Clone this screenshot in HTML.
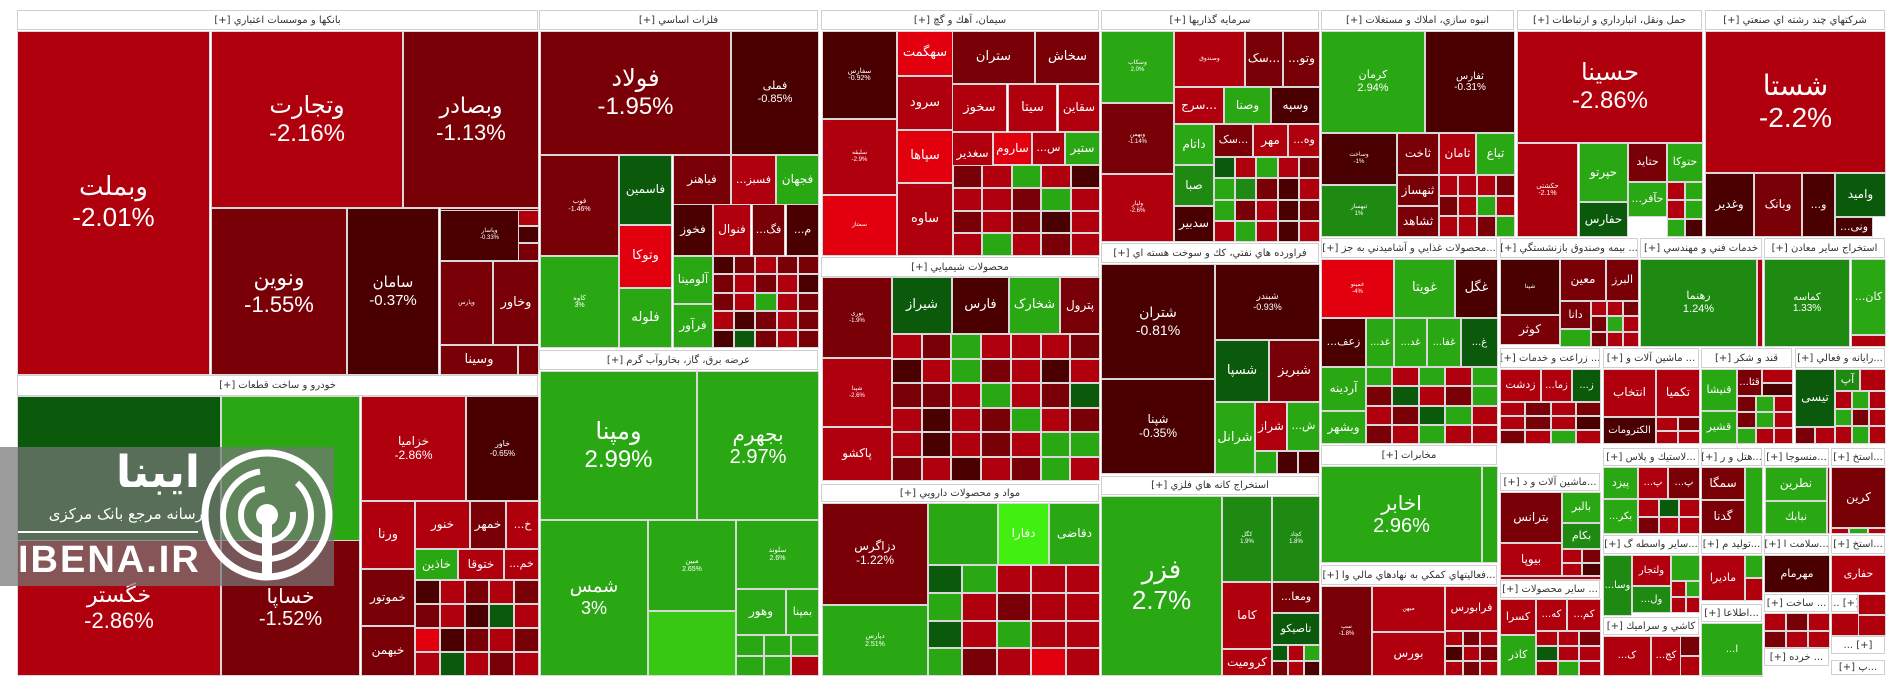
<!DOCTYPE html>
<html><head><meta charset="utf-8">
<style>
html,body{margin:0;padding:0;background:#fff;}
#root{position:relative;width:1904px;height:698px;overflow:hidden;background:#fff;font-family:"DejaVu Sans","Liberation Sans",sans-serif;}
.t{position:absolute;box-sizing:border-box;border:1px solid #d8d8d8;color:#fff;display:flex;flex-direction:column;align-items:center;justify-content:center;text-align:center;overflow:hidden;line-height:1.15;white-space:nowrap;}
.h{position:absolute;box-sizing:border-box;background:#fff;border:1px solid #d0d0d0;color:#333;font-size:10px;display:flex;align-items:center;justify-content:center;overflow:hidden;white-space:nowrap;direction:rtl;}
#wm{position:absolute;left:0;top:447px;width:334px;height:139px;background:rgba(118,118,118,0.72);}
</style></head><body>
<div id="root">
<div id="wm">
  <div style="position:absolute;left:30px;top:0px;width:170px;text-align:right;color:#fff;font-size:44px;font-weight:bold;">ایبنا</div>
  <div style="position:absolute;left:18px;top:58px;width:185px;text-align:right;color:#fff;font-size:15px;">رسانه مرجع بانک مرکزی</div>
  <div style="position:absolute;left:18px;top:84px;width:180px;height:2px;background:#fff;"></div>
  <div style="position:absolute;left:18px;top:92px;color:#fff;font-family:'Liberation Sans',sans-serif;font-weight:bold;font-size:38px;letter-spacing:2px;">IBENA.IR</div>
  <svg style="position:absolute;left:200px;top:0px;" width="134" height="139">
    <circle cx="67" cy="68" r="62" fill="none" stroke="#fff" stroke-width="7"/>
    <circle cx="67" cy="68" r="44" fill="none" stroke="#fff" stroke-width="6" stroke-dasharray="200 40"/>
    <circle cx="67" cy="68" r="26" fill="none" stroke="#fff" stroke-width="6" stroke-dasharray="120 40"/>
    <circle cx="67" cy="68" r="11" fill="#fff"/>
    <rect x="62" y="68" width="10" height="62" fill="#fff"/>
  </svg>
</div>
</div>
<script>
const C={a:"#4a0000",b:"#7a0008",c:"#b0000e",d:"#e2000f",g:"#2aa814",h:"#0b5a0b",m:"#1f8a12",l:"#41f010",n:"#36c812"};
const headers=[
[17,10,538,30,"بانکها و موسسات اعتباري [+]"],[17,375,538,396,"خودرو و ساخت قطعات [+]"],
[539,10,818,30,"فلزات اساسي [+]"],[539,350,818,370,"عرضه برق، گاز، بخاروآب گرم [+]"],
[821,10,1099,30,"سيمان، آهك و گچ [+]"],[821,257,1099,277,"محصولات شيميايي [+]"],
[821,484,1099,502,"مواد و محصولات دارويي [+]"],[1101,10,1319,30,"سرمايه گذاريها [+]"],
[1101,243,1319,263,"فراورده هاي نفتي، كك و سوخت هسته اي [+]"],[1101,476,1319,495,"استخراج كانه هاي فلزي [+]"],
[1321,10,1514,30,"انبوه سازي، املاك و مستغلات [+]"],[1517,10,1702,30,"حمل ونقل، انبارداري و ارتباطات [+]"],
[1705,10,1885,30,"شركتهاي چند رشته اي صنعتي [+]"],[1321,238,1497,258,"...محصولات غذايي و آشاميدني به جز [+]"],
[1500,238,1638,258,"... بيمه وصندوق بازنشستگي [+]"],[1640,238,1762,258,"خدمات فني و مهندسي [+]"],
[1764,238,1885,258,"استخراج ساير معادن [+]"],[1500,348,1600,368,"... زراعت و خدمات [+]"],
[1603,348,1699,368,"... ماشين آلات و [+]"],[1701,348,1792,368,"قند و شكر [+]"],
[1795,348,1885,368,"...رايانه و فعالي [+]"],[1321,445,1497,465,"مخابرات [+]"],
[1321,565,1497,585,"...فعاليتهاي كمكي به نهادهاي مالي وا [+]"],[1603,448,1699,466,"...لاستيك و پلاس [+]"],
[1701,448,1762,466,"...هتل و ر [+]"],[1764,448,1829,466,"...منسوجا [+]"],[1831,448,1885,466,"...استخ [+]"],
[1500,473,1600,491,"...ماشين آلات و د [+]"],[1603,535,1699,554,"...ساير واسطه گ [+]"],
[1701,535,1762,554,"...توليد م [+]"],[1764,535,1829,554,"...سلامت ا [+]"],[1831,535,1885,554,"...استخ [+]"],
[1500,580,1600,598,"... ساير محصولات [+]"],[1603,617,1699,635,"كاشي و سراميك [+]"],
[1701,604,1762,622,"...اطلاعا [+]"],[1764,594,1829,612,"... ساخت [+]"],[1831,594,1858,612,"[+] ..."],
[1764,648,1829,666,"... خرده [+]"],[1831,636,1885,654,"[+] ..."],[1831,660,1885,675,"...پ [+]"]
];
const tiles=[
[17,31,209,374,"c","وبملت","-2.01%",26],[211,31,402,207,"c","وتجارت","-2.16%",24],[403,31,538,207,"b","وبصادر","-1.13%",22],
[211,208,346,374,"b","ونوین","-1.55%",22],[347,208,438,374,"a","سامان","-0.37%",15],[440,208,538,260,"a","وپاسار","-0.33%",6],
[440,261,492,344,"b","وپارس","",6],[493,261,538,344,"b","وخاور","",13],[440,345,517,374,"b","وسینا","",13],[518,345,538,374,"b","","",8],
[17,396,220,540,"h","","",8],[221,396,359,540,"g","","",8],[17,540,220,675,"c","خگستر","-2.86%",22],[221,540,359,675,"b","خساپا","-1.52%",20],
[361,396,465,500,"c","خزامیا","-2.86%",12],[466,396,538,500,"a","خاور","-0.65%",8],[361,501,414,568,"c","ورنا","",13],
[415,501,469,548,"c","خنور","",12],[470,501,505,548,"b","خمهر","",12],[506,501,538,548,"c","خ...","",11],
[415,549,457,579,"g","خاذین","",12],[458,549,503,579,"c","ختوقا","",12],[504,549,538,579,"c","خم...","",11],
[361,569,414,625,"b","خموتور","",12],[361,626,414,675,"b","خبهمن","",12],
[540,31,730,154,"b","فولاد","-1.95%",24],[731,31,818,154,"a","فملی","-0.85%",11],[540,155,618,255,"b","فوب","-1.46%",7],
[540,256,618,347,"g","کاوه","3%",7],[619,155,671,224,"h","فاسمین","",12],[673,155,730,204,"b","فباهنر","",12],
[731,155,775,204,"c","فسبز...","",11],[776,155,818,204,"g","فجهان","",12],[673,204,712,255,"a","فخوز","",12],
[713,204,750,255,"c","فنوال","",12],[752,204,784,255,"b","فگ...","",11],[786,204,818,255,"a","م...","",11],
[619,225,671,287,"d","وتوکا","",13],[619,288,671,347,"g","فلوله","",13],[673,256,712,303,"g","آلومینا","",12],[673,304,712,347,"g","فرآور","",12],
[540,371,696,519,"g","ومپنا","2.99%",24],[697,371,818,519,"g","بجهرم","2.97%",20],[540,520,647,675,"g","شمس","3%",18],
[648,520,735,610,"g","مبین","2.65%",7],[648,611,735,675,"n","","",7],[736,520,818,588,"g","سلوند","2.6%",7],
[736,589,785,634,"g","وهور","",12],[786,589,818,634,"g","بمپنا","",11],
[822,31,896,118,"a","سفارس","-0.92%",7],[822,119,896,194,"c","سلیقه","-2.9%",6],[822,195,896,255,"d","سمتاز","",6],
[897,31,952,75,"d","سهگمت","",13],[897,76,952,129,"c","سرود","",13],[897,130,952,182,"d","سپاها","",13],[897,183,952,255,"c","ساوه","",13],
[952,31,1034,83,"b","ستران","",13],[1035,31,1099,83,"b","سخاش","",13],[952,84,1006,131,"c","سخوز","",13],[1008,84,1056,131,"c","سیتا","",13],
[1058,84,1099,131,"c","سقاین","",12],[952,132,992,174,"c","سغدیر","",12],[993,132,1031,164,"d","ساروم","",12],[1032,132,1064,164,"c","س...","",11],
[1065,132,1099,164,"g","ستیر","",12],[952,175,992,215,"b","سباقر","",12],[952,216,992,255,"c","سبهان","",12],
[822,277,891,357,"b","نوری","-1.9%",6],[822,358,891,426,"c","شپنا","-2.6%",6],[822,427,891,480,"c","پاکشو","",12],
[892,277,951,333,"h","شیراز","",13],[952,277,1008,333,"a","فارس","",13],[1009,277,1059,333,"g","شخارک","",13],[1060,277,1099,333,"b","پترول","",12],
[822,503,927,604,"b","دزاگرس","-1.22%",12],[822,605,927,675,"g","دپارس","2.51%",7],[928,503,997,564,"g","","",8],[998,503,1048,564,"l","دفارا","",12],[1049,503,1099,564,"g","دقاضی","",12],
[1101,31,1173,102,"g","وسکاب","2.0%",6],[1101,103,1173,173,"b","وبهمن","-1.14%",6],[1101,174,1173,241,"c","ولپار","-2.6%",6],
[1174,31,1244,86,"c","وصندوق","",6],[1245,31,1282,86,"b","...سک","",12],[1283,31,1319,86,"b","وتو...","",12],
[1174,87,1223,123,"c","...سرج","",12],[1224,87,1270,123,"g","وصنا","",12],[1271,87,1319,123,"a","وسپه","",12],
[1174,124,1213,164,"g","داتام","",12],[1174,165,1213,205,"m","صبا","",12],[1174,206,1213,241,"a","سدبیر","",12],
[1214,124,1252,156,"b","...سک","",11],[1253,124,1287,156,"c","مهر","",12],[1288,124,1319,156,"c","وه...","",11],
[1101,264,1214,378,"a","شتران","-0.81%",14],[1101,379,1214,473,"a","شپنا","-0.35%",12],[1215,264,1319,339,"a","شبندر","-0.93%",9],
[1215,340,1268,401,"h","شسپا","",13],[1269,340,1319,401,"b","شبریز","",13],[1215,402,1254,473,"g","شرانل","",13],[1255,402,1286,450,"c","شراز","",12],[1287,402,1319,450,"g","ش...","",11],
[1101,496,1221,675,"g","فزر","2.7%",26],[1222,496,1271,581,"m","کگل","1.9%",6],[1272,496,1319,581,"m","کچاد","1.8%",6],
[1222,582,1271,648,"c","کاما","",12],[1222,649,1271,675,"c","کرومیت","",12],[1272,582,1319,612,"b","ومعا...","",11],[1272,613,1319,644,"h","تاصیکو","",11],
[1321,31,1424,132,"g","کرمان","2.94%",11],[1425,31,1514,132,"a","ثفارس","-0.31%",10],[1321,133,1396,184,"a","وساخت","-1%",6],[1321,185,1396,236,"m","ثبهساز","1%",6],
[1397,133,1438,174,"b","ثاخت","",12],[1439,133,1475,174,"c","ثامان","",12],[1476,133,1514,174,"g","تباع","",12],[1397,175,1438,205,"b","ثنهساز","",12],[1397,206,1438,236,"b","ثشاهد","",12],
[1517,31,1702,142,"c","حسینا","-2.86%",24],[1517,143,1577,236,"c","حکشتی","-2.1%",7],[1579,143,1627,201,"g","حپرتو","",12],[1579,202,1627,236,"h","حفارس","",12],
[1628,143,1666,181,"b","حتاید","",11],[1667,143,1702,181,"g","حتوکا","",11],[1628,182,1666,216,"g","حآفر...","",11],
[1705,31,1885,172,"c","شستا","-2.2%",28],[1705,173,1753,236,"a","وغدیر","",12],[1754,173,1801,236,"b","وبانک","",12],[1802,173,1834,236,"a","و...","",11],
[1835,173,1885,216,"h","وامید","",12],[1835,217,1872,236,"a","ونی...","",11],
[1321,259,1393,317,"d","غمینو","-4%",6],[1394,259,1454,317,"g","غویتا","",13],[1455,259,1497,317,"a","غگل","",13],
[1321,318,1365,366,"a","زعف...","",11],[1366,318,1393,366,"g","غد...","",10],[1394,318,1426,366,"g","غد...","",10],[1427,318,1460,366,"g","غفا...","",10],[1461,318,1497,366,"h","غ...","",10],
[1321,367,1365,410,"g","آردینه","",12],[1321,411,1365,443,"g","وبشهر","",12],
[1500,259,1559,314,"a","شپنا","",6],[1500,315,1559,344,"b","کوثر","",12],[1560,259,1605,300,"b","معین","",12],[1606,259,1638,300,"b","البرز","",11],[1560,301,1590,328,"b","دانا","",11],
[1640,259,1756,346,"m","رهنما","1.24%",11],[1757,259,1762,346,"c","","",6],
[1764,259,1849,346,"m","کماسه","1.33%",10],[1851,259,1885,334,"g","کان...","",11],[1851,335,1885,346,"c","","",6],
[1500,369,1540,401,"c","زدشت","",11],[1541,369,1571,401,"c","زما...","",10],[1572,369,1600,401,"h","ز...","",10],
[1603,369,1655,416,"c","انتخاب","",12],[1656,369,1699,416,"c","تکمیا","",12],[1603,417,1655,443,"a","الکترومات","",10],
[1701,369,1736,410,"g","قنیشا","",11],[1701,411,1736,443,"g","قشیر","",11],[1737,369,1761,395,"b","قثا...","",10],
[1795,369,1834,426,"h","تیسی","",12],[1835,369,1859,390,"m","آپ","",11],
[1321,466,1481,562,"g","اخابر","2.96%",20],[1482,466,1497,562,"g","","",6],
[1321,586,1371,675,"b","سپ","-1.8%",6],[1372,586,1444,631,"c","میهن","",6],[1372,632,1444,675,"c","بورس","",12],[1445,586,1497,630,"c","فرابورس","",11],
[1603,467,1637,498,"g","پیزد","",11],[1638,467,1667,498,"c","پ...","",10],[1668,467,1699,498,"b","پ...","",10],[1603,499,1637,533,"g","بکر...","",10],
[1701,467,1744,499,"b","سمگا","",12],[1701,500,1744,533,"b","گدنا","",12],[1745,467,1762,533,"g","","",6],
[1765,467,1826,500,"g","نطرین","",12],[1765,501,1826,533,"g","نبابك","",11],[1827,467,1829,533,"c","","",6],[1831,467,1885,527,"b","کرین","",12],
[1500,492,1561,542,"b","بترانس","",12],[1500,543,1561,575,"c","بیوپا","",12],[1562,492,1600,522,"g","بالبر","",11],[1562,523,1600,548,"m","بکام","",11],
[1603,555,1631,615,"m","وسا...","",10],[1632,555,1670,585,"c","ولتجار","",10],[1632,586,1670,612,"m","ول...","",10],[1671,555,1699,580,"g","","",6],
[1701,555,1744,600,"c","مادیرا","",11],[1764,555,1829,592,"a","مهرمام","",11],[1831,555,1885,592,"c","حفاری","",11],
[1500,599,1535,634,"c","کسرا","",11],[1500,635,1535,675,"g","کاذر","",11],[1536,599,1566,630,"c","که...","",10],[1567,599,1600,630,"c","کم...","",10],
[1701,623,1762,675,"g","ا...","",10],[1603,636,1650,675,"c","ک...","",10],[1651,636,1680,675,"c","کج...","",10]
];
const grids=[
[518,208,538,260,1,3,"cab"],[440,208,538,210,1,1,"a"],
[415,580,538,675,5,4,"acbcbbcahcdabcbchcbc"],
[713,256,818,347,5,5,"abcbbbcbcabcgcbcabcbahbcb"],
[736,635,818,675,3,2,"gggggc"],
[953,165,1099,255,5,4,"bcgcaccbgcbcbaccgcbc"],
[892,334,1099,480,7,6,"cbgcccbacgbcacbbcgcbhcacbgcbcacbcggbcacbgcbgcac"],
[928,565,1099,675,5,4,"hgcccgcbcchcgccgbcdc"],
[1214,157,1319,241,5,4,"hcgcbgmbacgbcabcgcac"],
[1255,451,1319,473,3,1,"gaa"],[1272,645,1319,675,3,2,"hcgbca"],
[1439,175,1514,236,4,3,"cccbbcgcccbg"],
[1667,182,1702,236,2,3,"cgcgga"],
[1366,367,1497,443,5,4,"gcgcgbhcbgcbhgcbcgcc"],
[1591,301,1638,346,3,3,"ccbbgcbcc"],[1560,329,1590,346,1,1,"g"],
[1500,402,1600,443,4,3,"cbcbcbcabcgc"],
[1656,417,1699,443,2,2,"cbcc"],[1737,396,1792,443,3,3,"bgcbgcgcc"],[1762,369,1792,395,1,2,"ca"],
[1835,391,1885,443,3,3,"cgcgbccgc"],[1795,427,1834,443,2,1,"bc"],[1860,369,1885,390,1,1,"c"],
[1445,631,1497,675,3,3,"cbcacbcbc"],
[1638,499,1699,533,3,2,"chcbcc"],
[1831,528,1885,533,3,1,"cgc"],
[1562,549,1600,575,2,2,"cbca"],[1500,576,1600,579,1,1,"c"],
[1671,581,1699,612,2,2,"cgcc"],
[1536,631,1600,675,3,3,"ccbhcccgc"],
[1680,636,1699,675,1,2,"bc"],
[1764,613,1829,647,3,2,"cbcbcc"],[1831,613,1858,635,1,1,"c"],[1858,594,1885,635,1,2,"cc"],
[1745,555,1762,600,1,2,"gc"],[1701,675,1762,675,1,1,"c"]
];
const root=document.getElementById('root');
headers.forEach(function(r){
  const d=document.createElement('div');
  d.className='h';
  d.style.left=r[0]+'px';d.style.top=r[1]+'px';d.style.width=(r[2]-r[0])+'px';d.style.height=(r[3]-r[1])+'px';
  d.textContent=r[4];
  
  
  root.insertBefore(d,document.getElementById('wm'));
});
function mk(x1,y1,x2,y2,col,lab,pct,fs){
  const d=document.createElement('div');
  d.className='t';
  d.style.left=x1+'px';d.style.top=y1+'px';d.style.width=(x2-x1+1)+'px';d.style.height=(y2-y1+1)+'px';
  d.style.background=C[col];
  d.style.fontSize=fs+'px';
  if(lab){const s=document.createElement('div');s.textContent=lab;s.style.direction='rtl';d.appendChild(s);}
  if(pct){const p=document.createElement('div');p.textContent=pct;p.style.fontFamily='"Liberation Sans",sans-serif';d.appendChild(p);}
  
  
  root.insertBefore(d,document.getElementById('wm'));
}
tiles.forEach(function(t){mk(t[0],t[1],t[2],t[3],t[4],t[5],t[6],t[7]);});
grids.forEach(function(g){
  const w=(g[2]-g[0]+1)/g[4],h=(g[3]-g[1]+1)/g[5];
  for(let r=0;r<g[5];r++)for(let c=0;c<g[4];c++){
    const k=g[6][(r*g[4]+c)%g[6].length];
    mk(Math.round(g[0]+c*w),Math.round(g[1]+r*h),Math.round(g[0]+(c+1)*w)-1,Math.round(g[1]+(r+1)*h)-1,k,"","",8);
  }
});
</script>
</body></html>
